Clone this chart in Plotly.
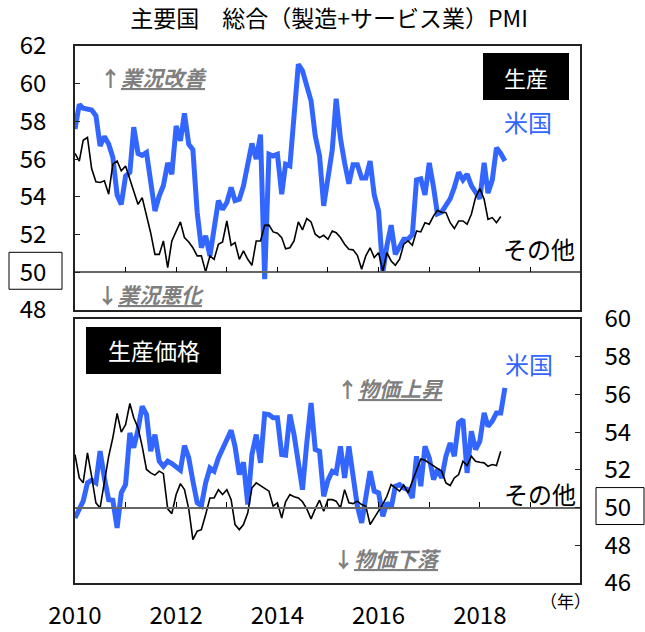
import pandas as pd
import plotly.graph_objects as go

# ---------------- data ----------------
us_output = [57.6, 58.9, 58.7, 58.65, 58.6, 58.3, 56.7, 57.2, 56.8, 56.1,
             54.1, 53.6, 55.1, 55.3, 57.7, 56.3, 56.2, 56.35, 54.9, 53.25,
             54.05, 54.6, 55.8, 55.2, 57.76, 56.97, 58.43, 56.79, 56.5, 53.17,
             51.3, 51.93, 50.87, 52.55, 53.8, 53.34, 53.7, 54.5, 53.8, 53.87,
             54.58, 55.73, 56.83, 56.0, 57.3, 49.63, 56.26, 56.17, 56.26, 54.14,
             55.73, 55.64, 58.65, 61.03, 60.68, 59.8, 59.09, 57.23, 56.17, 53.52,
             55.0, 56.5, 59.2, 57.1, 55.8, 54.7, 55.7, 55.7, 55.0, 55.0,
             55.9, 54.1, 53.25, 50.0, 51.4, 52.5, 50.95, 51.3, 51.75, 51.75,
             52.0, 54.9, 54.96, 54.1, 55.8, 54.5, 53.1, 53.2, 53.5, 53.9,
             54.5, 55.3, 54.9, 55.2, 54.6, 54.2, 53.9, 55.8, 54.2, 54.9,
             56.6, 56.3, 55.9]
other_output = [56.3, 55.9, 57.0, 57.15, 55.5, 54.8, 54.76, 54.85, 54.14, 55.73,
                55.9, 55.38, 55.64, 54.93, 54.31, 53.6, 53.96, 53.08, 52.1, 50.95,
                50.95, 51.66, 50.25, 51.66, 52.19, 52.67, 51.84, 51.61, 51.3, 50.87,
                50.87, 50.02, 50.87, 50.69, 51.49, 51.61, 52.72, 51.43, 51.58, 50.69,
                51.13, 50.69, 50.37, 51.66, 51.66, 52.49, 52.5, 52.14, 52.07, 51.84,
                51.25, 51.3, 51.66, 52.67, 52.25, 52.85, 52.67, 52.02, 51.84, 51.96,
                51.75, 52.19, 52.1, 51.84, 51.49, 51.22, 51.19, 50.9, 50.16, 50.87,
                51.3, 50.78, 51.04, 50.07, 51.04, 50.6, 50.37, 50.69, 51.49, 51.66,
                51.43, 52.19, 52.14, 52.63, 52.55, 52.99, 53.29, 53.17, 53.17, 52.63,
                52.32, 52.72, 52.72, 52.55, 53.08, 53.96, 54.44, 53.87, 52.81, 52.9,
                52.63, 52.96]
us_price = [49.45, 49.98, 50.34, 51.31, 51.45, 51.31, 52.99, 51.57, 50.42, 50.39,
            48.92, 50.78, 51.22, 53.96, 53.17, 54.14, 55.37, 54.93, 52.99, 53.87,
            52.46, 52.19, 52.46, 52.33, 52.19, 51.98, 53.29, 52.63, 51.4, 50.25,
            50.1, 51.31, 52.1, 51.93, 52.63, 53.08, 53.52, 54.1, 53.25, 51.75,
            52.4, 50.16, 52.81, 53.87, 52.37, 54.97, 54.93, 54.76, 54.76, 52.81,
            52.78, 54.93, 53.87, 52.46, 50.95, 53.43, 55.55, 53.08, 52.99, 50.6,
            51.45, 51.93, 51.84, 53.25, 51.57, 53.25, 51.57, 50.07, 49.19, 50.42,
            51.93, 50.87, 50.78, 49.54, 50.25, 49.98, 51.13, 51.22, 51.04, 50.95,
            50.51, 52.72, 51.13, 53.25, 52.63, 51.49, 52.02, 51.57, 52.72, 53.43,
            52.72, 54.49, 54.67, 51.84, 54.05, 53.08, 53.52, 55.02, 54.31, 54.58,
            55.02, 55.02, 56.35]
other_price = [52.81, 51.57, 51.31, 52.9, 51.66, 50.25, 49.98, 51.45, 52.72, 53.7,
               54.99, 54.0, 54.4, 55.52, 54.76, 54.23, 53.25, 52.02, 51.84, 51.72,
               51.93, 51.8, 49.93, 49.68, 50.69, 51.27, 50.95, 49.93, 48.3, 48.75,
               48.83, 49.63, 50.51, 50.51, 50.95, 50.69, 50.95, 50.42, 49.1, 48.83,
               49.1, 49.72, 51.04, 51.31, 51.17, 50.99, 50.87, 50.07, 50.25, 49.45,
               50.31, 50.69, 50.57, 50.51, 50.31, 49.93, 49.4, 49.93, 50.39, 49.8,
               50.42, 50.42, 50.34, 49.98, 50.95, 50.25, 50.21, 50.34, 50.16, 50.07,
               49.1, 49.45, 49.8, 50.19, 50.6, 51.22, 51.04, 50.87, 51.19, 50.78,
               51.4, 52.02, 52.58, 52.51, 52.37, 52.23, 52.1, 51.93, 51.31, 51.17,
               51.57, 51.75, 52.46, 52.23, 52.72, 52.46, 52.4, 52.37, 52.19, 52.28,
               52.23, 52.99]
start_month = "2010-01-01"
year_ticks = ["2010", "2012", "2014", "2016", "2018"]
top_ticks = [48, 50, 52, 54, 56, 58, 60, 62]
bot_ticks = [46, 48, 50, 52, 54, 56, 58, 60]

def months(n):
    return pd.date_range(start_month, periods=n, freq="MS")

BLUE = "#3366FF"
FONT = "Noto Sans CJK JP"
NUMFONT = "Noto Sans CJK JP"
W, H = 645, 632
ML, MR, MT, MB = 75, 65, 46, 49
PW, PH = W - ML - MR, H - MT - MB

def px(x):
    return (x - ML) / PW

def py(y):
    return (H - MB - y) / PH

top_dom = [py(310), 1.0]
bot_dom = [0.0, py(319)]
xr = ["2010-01-01", "2019-12-25"]

fig = go.Figure()
fig.add_trace(go.Scatter(x=months(len(us_output)), y=us_output, mode="lines",
                         line=dict(color=BLUE, width=5), xaxis="x", yaxis="y"))
fig.add_trace(go.Scatter(x=months(len(other_output)), y=other_output, mode="lines",
                         line=dict(color="black", width=1.6), xaxis="x3", yaxis="y"))
fig.add_trace(go.Scatter(x=months(len(us_price)), y=us_price, mode="lines",
                         line=dict(color=BLUE, width=5), xaxis="x2", yaxis="y2"))
fig.add_trace(go.Scatter(x=months(len(other_price)), y=other_price, mode="lines",
                         line=dict(color="black", width=1.6), xaxis="x4", yaxis="y2"))

frame = dict(showline=True, linecolor="#222", linewidth=1.5, mirror=True,
             showgrid=False, zeroline=False, automargin=False)
pos50_top = top_dom[0] + (50 - 48) / 14 * (top_dom[1] - top_dom[0])
pos50_bot = bot_dom[0] + (50 - 46) / 14 * (bot_dom[1] - bot_dom[0])
base50 = dict(type="date", range=xr, anchor="free", showline=True, linecolor="#666",
              linewidth=1.5, ticks="inside", ticklen=5, tickcolor="black",
              tick0="2010-01-01", dtick="M12", showticklabels=False,
              showgrid=False, zeroline=False, automargin=False)

fig.update_layout(
    template="none",
    width=W, height=H, margin=dict(l=ML, r=MR, t=MT, b=MB, autoexpand=False),
    paper_bgcolor="white", plot_bgcolor="white", showlegend=False,
    font=dict(family=FONT, color="black"),
    title=dict(text="主要国　総合（製造+サービス業）PMI", x=329 / W, xanchor="center",
               y=1 - 19 / H, yanchor="middle", font=dict(size=23, family=FONT)),
    xaxis=dict(type="date", range=xr, domain=[0, 1], anchor="y", ticks="",
               showticklabels=False, **frame),
    yaxis=dict(range=[48, 62], domain=top_dom, tickvals=top_ticks, ticks="inside",
               ticklen=5, tickcolor="#222", tickfont=dict(size=24, family=NUMFONT),
               ticklabelstandoff=22, **frame),
    xaxis2=dict(type="date", range=xr, domain=[0, 1], anchor="y2", ticks="",
                tickvals=[pd.Timestamp(y + "-01-01") for y in year_ticks],
                ticktext=year_ticks, tickfont=dict(size=24, family=NUMFONT),
                ticklabelstandoff=10, **frame),
    yaxis2=dict(range=[46, 60], domain=bot_dom, side="right", tickvals=bot_ticks,
                ticks="inside", ticklen=5, tickcolor="#222",
                tickfont=dict(size=24, family=NUMFONT),
                ticklabelstandoff=18, **frame),
    xaxis3=dict(overlaying="x", position=pos50_top, **base50),
    xaxis4=dict(overlaying="x2", position=pos50_bot, **base50),
)

shapes = [
    # boxes around 50 tick labels
    dict(type="rect", xref="paper", yref="y", x0=px(9), x1=px(62), y0=49.1, y1=51.06,
         line=dict(color="black", width=1)),
    dict(type="rect", xref="paper", yref="y2", x0=px(596), x1=px(644), y0=49.1, y1=51.06,
         line=dict(color="black", width=1)),
    # black label boxes
    dict(type="rect", xref="paper", yref="paper", x0=px(483), x1=px(569), y0=py(100), y1=py(53),
         fillcolor="black", line=dict(width=0)),
    dict(type="rect", xref="paper", yref="paper", x0=px(86), x1=px(221), y0=py(374), y1=py(327),
         fillcolor="black", line=dict(width=0)),
]
fig.update_layout(shapes=shapes)

def ann(text, x, y, size, color="black", **kw):
    fig.add_annotation(text=text, xref="paper", yref="paper", x=px(x), y=py(y),
                       xanchor="center", yanchor="middle", showarrow=False,
                       font=dict(size=size, color=color, family=FONT), **kw)

GRAY = "#7f7f7f"
ann("生産", 526, 76.5, 22, "white")
ann("生産価格", 153.5, 350.5, 23, "white")
ann("米国", 527.5, 122, 24, BLUE)
ann("その他", 539, 248, 24)
ann("米国", 528.5, 363, 24, BLUE)
ann("その他", 540, 493, 24)
ann("<b>↑<i><u>業況改善</u></i></b>", 153, 77, 21, GRAY)
ann("<b>↓<i><u>業況悪化</u></i></b>", 150, 294, 21, GRAY)
ann("<b>↑<i><u>物価上昇</u></i></b>", 390, 388, 21, GRAY)
ann("<b>↓<i><u>物価下落</u></i></b>", 387, 558, 21, GRAY)
ann("（年）", 565, 600, 17)

fig.write_html("out.html", config={"displayModeBar": False},
               post_script="document.body.style.margin='0';")
